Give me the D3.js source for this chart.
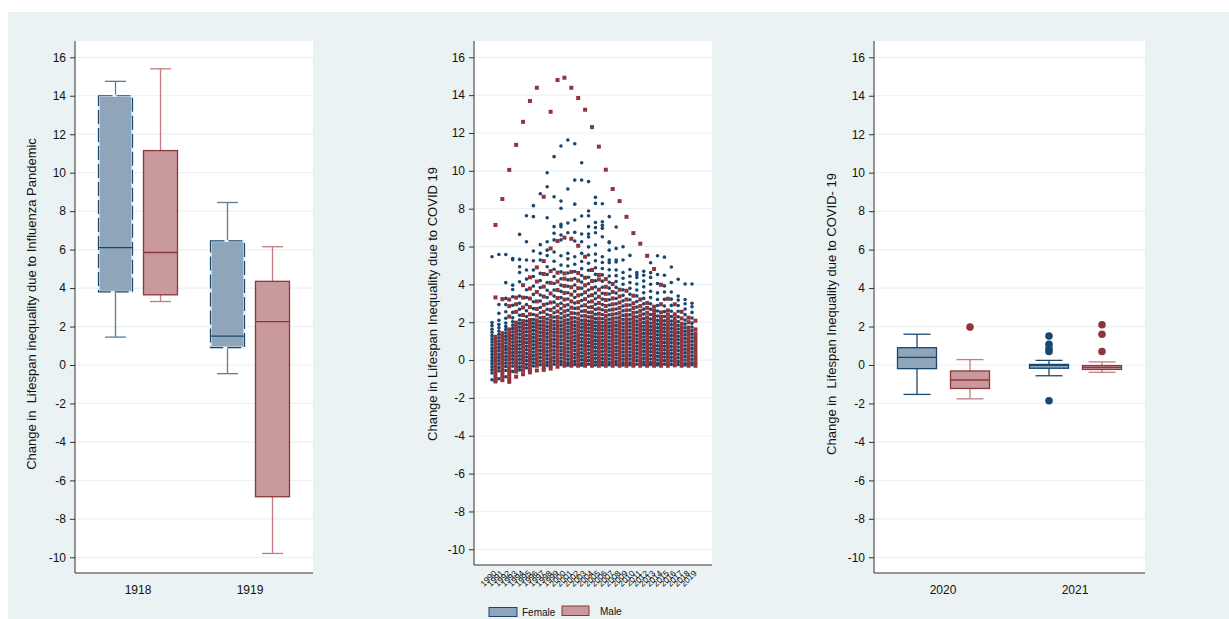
<!DOCTYPE html>
<html>
<head>
<meta charset="utf-8">
<script src="https://cdn.jsdelivr.net/npm/d3@7/dist/d3.min.js"></script>
<style>
body{margin:0;background:#fff;}
svg{display:block;font-family:Arial,"Liberation Sans",sans-serif;}
</style>
</head>
<body>
<svg id="svg" width="1229" height="619"></svg>
<script>
//tick values shared by the three panels
var yTicks = [-10, -8, -6, -4, -2, 0, 2, 4, 6, 8, 10, 12, 14, 16];

//panel 1: influenza boxes, [lower whisker, q1, median, q3, upper whisker]
var fluYears = ["1918", "1919"];
var fluFemale = [[1.45, 3.8, 6.1, 14.0, 14.75], [-0.45, 0.9, 1.5, 6.45, 8.45]];
var fluMale = [[3.3, 3.65, 5.85, 11.15, 15.4], [-9.8, -6.85, 2.25, 4.35, 6.15]];

//panel 3: covid boxes
var covidYears = ["2020", "2021"];
var covidFemale = [[-1.53, -0.19, 0.4, 0.9, 1.6], [-0.56, -0.17, -0.02, 0.03, 0.24]];
var covidMale = [[-1.76, -1.22, -0.78, -0.31, 0.28], [-0.38, -0.23, -0.12, -0.03, 0.16]];
var covidFemaleOut = [[], [1.51, 1.08, 0.85, 0.7, -1.86]];
var covidMaleOut = [[1.97], [2.09, 1.6, 0.7]];

//panel 2: scatter by year
var scatterYears = ["1990","1991","1992","1993","1994","1995","1996","1997","1998","1999",
    "2000","2001","2002","2003","2004","2005","2006","2007","2008","2009",
    "2010","2011","2012","2013","2014","2015","2016","2017","2018","2019"];

var scatterFemale = [
    [5.46, 1.98, 1.82, 1.63, 1.47, 1.29, 1.12, 0.96, 0.79, 0.62, 0.46, 0.3, 0.13, -0.03, -0.19, -0.35, -0.52, -0.68, -1.04],
    [5.58, 2.94, 2.47, 2.1, 1.88, 1.71, 1.53, 1.36, 1.18, 1.01, 0.84, 0.66, 0.49, 0.31, 0.14, -0.04, -0.21, -0.39, -0.57, -0.99],
    [5.58, 4.09, 3.26, 2.93, 2.55, 2.21, 1.96, 1.78, 1.61, 1.43, 1.25, 1.07, 0.9, 0.72, 0.55, 0.37, 0.19, 0.02, -0.16, -0.34, -0.55, -0.88],
    [5.37, 5.3, 3.96, 3.73, 3.35, 2.9, 2.52, 2.23, 2.02, 1.84, 1.66, 1.48, 1.3, 1.12, 0.94, 0.76, 0.58, 0.4, 0.22, 0.04, -0.14, -0.32, -0.6],
    [6.64, 5.32, 4.93, 4.63, 4.14, 3.38, 3.0, 2.68, 2.37, 2.12, 1.93, 1.74, 1.55, 1.36, 1.17, 0.98, 0.79, 0.6, 0.41, 0.22, 0.03, -0.16, -0.35, -0.52],
    [7.63, 6.25, 5.29, 4.76, 4.28, 3.72, 3.31, 2.93, 2.61, 2.3, 2.06, 1.87, 1.68, 1.49, 1.3, 1.11, 0.92, 0.73, 0.54, 0.35, 0.16, -0.03, -0.22, -0.41],
    [8.16, 7.58, 5.76, 5.25, 4.76, 4.42, 3.91, 3.47, 3.08, 2.72, 2.41, 2.14, 1.95, 1.76, 1.57, 1.38, 1.19, 1.0, 0.81, 0.62, 0.43, 0.24, 0.05, -0.14, -0.31],
    [8.79, 6.1, 5.64, 5.29, 4.58, 4.2, 3.83, 3.44, 3.12, 2.78, 2.5, 2.24, 2.03, 1.84, 1.65, 1.46, 1.27, 1.08, 0.89, 0.7, 0.51, 0.32, 0.13, -0.06, -0.25],
    [9.9, 9.16, 7.52, 6.25, 5.81, 5.52, 4.93, 4.52, 4.1, 3.69, 3.31, 2.98, 2.68, 2.41, 2.17, 1.97, 1.78, 1.59, 1.4, 1.21, 1.02, 0.83, 0.64, 0.45, 0.26, 0.07, -0.12, -0.28],
    [10.75, 8.63, 7.05, 6.7, 6.35, 5.71, 5.22, 4.8, 4.42, 4.05, 3.7, 3.38, 3.06, 2.76, 2.5, 2.26, 2.04, 1.85, 1.66, 1.47, 1.28, 1.09, 0.9, 0.71, 0.52, 0.33, 0.14, -0.05, -0.22],
    [11.31, 8.4, 8.02, 7.17, 7.05, 6.61, 6.35, 5.51, 5.02, 4.66, 4.3, 3.96, 3.63, 3.3, 3.0, 2.72, 2.46, 2.22, 2.01, 1.82, 1.63, 1.44, 1.25, 1.06, 0.87, 0.68, 0.49, 0.3, 0.11, -0.08, -0.24],
    [11.63, 9.04, 7.24, 6.73, 5.64, 5.35, 4.97, 4.6, 4.24, 3.9, 3.56, 3.23, 2.92, 2.63, 2.37, 2.13, 1.94, 1.75, 1.56, 1.37, 1.18, 0.99, 0.8, 0.61, 0.42, 0.23, 0.04, -0.15, -0.27],
    [11.43, 9.51, 8.24, 7.4, 6.75, 6.29, 5.46, 5.06, 4.68, 4.31, 3.97, 3.64, 3.31, 3.01, 2.73, 2.47, 2.23, 2.02, 1.83, 1.64, 1.45, 1.26, 1.07, 0.88, 0.69, 0.5, 0.31, 0.12, -0.07, -0.24],
    [10.43, 9.51, 7.61, 6.66, 6.25, 5.64, 5.21, 4.83, 4.47, 4.12, 3.79, 3.46, 3.15, 2.86, 2.58, 2.33, 2.1, 1.91, 1.72, 1.53, 1.34, 1.15, 0.96, 0.77, 0.58, 0.39, 0.2, 0.01, -0.18, -0.27],
    [9.43, 7.88, 7.63, 7.05, 6.66, 6.5, 5.98, 5.55, 5.12, 4.74, 4.38, 4.03, 3.7, 3.38, 3.07, 2.79, 2.52, 2.28, 2.06, 1.87, 1.68, 1.49, 1.3, 1.11, 0.92, 0.73, 0.54, 0.35, 0.16, -0.03, -0.22],
    [8.6, 8.28, 7.27, 7.0, 6.73, 6.08, 5.6, 5.25, 4.88, 4.53, 4.19, 3.86, 3.54, 3.24, 2.95, 2.68, 2.42, 2.19, 1.99, 1.8, 1.61, 1.42, 1.23, 1.04, 0.85, 0.66, 0.47, 0.28, 0.09, -0.1, -0.26],
    [8.26, 7.31, 7.12, 6.96, 6.52, 5.46, 5.16, 4.84, 4.5, 4.17, 3.85, 3.53, 3.22, 2.93, 2.66, 2.41, 2.18, 1.98, 1.79, 1.6, 1.41, 1.22, 1.03, 0.84, 0.65, 0.46, 0.27, 0.08, -0.11, -0.26],
    [7.58, 6.25, 6.2, 5.81, 5.29, 5.15, 4.77, 4.44, 4.11, 3.8, 3.49, 3.19, 2.91, 2.64, 2.39, 2.16, 1.96, 1.77, 1.58, 1.39, 1.2, 1.01, 0.82, 0.63, 0.44, 0.25, 0.06, -0.13, -0.25],
    [7.03, 5.9, 5.29, 5.18, 4.76, 4.46, 4.15, 3.84, 3.54, 3.25, 2.97, 2.7, 2.45, 2.22, 2.01, 1.82, 1.63, 1.44, 1.25, 1.06, 0.87, 0.68, 0.49, 0.3, 0.11, -0.08, -0.24],
    [5.99, 5.29, 4.63, 4.32, 4.01, 3.71, 3.42, 3.13, 2.86, 2.6, 2.36, 2.14, 1.94, 1.75, 1.56, 1.37, 1.18, 0.99, 0.8, 0.61, 0.42, 0.23, 0.04, -0.15, -0.26],
    [5.53, 4.79, 4.43, 4.1, 3.79, 3.48, 3.19, 2.91, 2.64, 2.39, 2.16, 1.95, 1.76, 1.57, 1.38, 1.19, 1.0, 0.81, 0.62, 0.43, 0.24, 0.05, -0.14, -0.25],
    [4.62, 4.5, 4.36, 4.02, 3.7, 3.39, 3.09, 2.8, 2.53, 2.28, 2.06, 1.87, 1.68, 1.49, 1.3, 1.11, 0.92, 0.73, 0.54, 0.35, 0.16, -0.03, -0.22],
    [4.69, 4.48, 4.18, 3.87, 3.56, 3.26, 2.97, 2.69, 2.43, 2.19, 1.98, 1.79, 1.6, 1.41, 1.22, 1.03, 0.84, 0.65, 0.46, 0.27, 0.08, -0.11, -0.25],
    [5.14, 4.62, 4.37, 4.01, 3.64, 3.3, 2.98, 2.68, 2.41, 2.17, 1.96, 1.77, 1.58, 1.39, 1.2, 1.01, 0.82, 0.63, 0.44, 0.25, 0.06, -0.13, -0.24],
    [5.51, 4.52, 4.05, 3.55, 3.2, 2.88, 2.59, 2.33, 2.1, 1.9, 1.71, 1.52, 1.33, 1.14, 0.95, 0.76, 0.57, 0.38, 0.19, 0.0, -0.19, -0.26],
    [5.44, 4.48, 3.92, 3.6, 3.21, 2.86, 2.56, 2.3, 2.07, 1.87, 1.68, 1.49, 1.3, 1.11, 0.92, 0.73, 0.54, 0.35, 0.16, -0.03, -0.22],
    [4.92, 4.1, 3.6, 3.22, 2.89, 2.58, 2.3, 2.06, 1.86, 1.67, 1.48, 1.29, 1.1, 0.91, 0.72, 0.53, 0.34, 0.15, -0.04, -0.23],
    [4.27, 3.38, 3.17, 2.88, 2.58, 2.29, 2.03, 1.83, 1.64, 1.45, 1.26, 1.07, 0.88, 0.69, 0.5, 0.31, 0.12, -0.07, -0.24],
    [4.02, 3.2, 2.98, 2.7, 2.4, 2.12, 1.9, 1.71, 1.52, 1.33, 1.14, 0.95, 0.76, 0.57, 0.38, 0.19, 0.0, -0.19, -0.26],
    [4.02, 3.0, 2.82, 2.52, 2.22, 1.95, 1.75, 1.56, 1.37, 1.18, 0.99, 0.8, 0.61, 0.42, 0.23, 0.04, -0.15, -0.25]
];

var scatterMale = [
    [7.14, 3.31, 1.23, 1.05, 0.86, 0.67, 0.48, 0.29, 0.1, -0.09, -0.28, -0.47, -0.66, -0.85, -1.05, -1.13],
    [8.51, 3.22, 1.42, 1.22, 1.03, 0.84, 0.65, 0.46, 0.27, 0.08, -0.11, -0.3, -0.49, -0.68, -0.87, -1.06],
    [10.05, 3.2, 2.85, 2.3, 1.62, 1.42, 1.22, 1.02, 0.82, 0.62, 0.42, 0.22, 0.02, -0.18, -0.38, -0.58, -0.78, -0.98, -1.15],
    [11.37, 3.3, 2.95, 2.55, 1.98, 1.79, 1.59, 1.39, 1.19, 0.99, 0.79, 0.59, 0.39, 0.19, -0.01, -0.21, -0.41, -0.61, -0.88],
    [12.59, 3.96, 3.3, 2.78, 2.38, 2.06, 1.86, 1.66, 1.46, 1.26, 1.06, 0.86, 0.66, 0.46, 0.26, 0.06, -0.14, -0.34, -0.54, -0.75],
    [13.69, 4.37, 3.78, 3.25, 2.8, 2.42, 2.12, 1.91, 1.71, 1.51, 1.31, 1.11, 0.91, 0.71, 0.51, 0.31, 0.11, -0.09, -0.29, -0.49, -0.65],
    [14.39, 4.9, 4.15, 3.6, 3.1, 2.7, 2.35, 2.1, 1.9, 1.7, 1.5, 1.3, 1.1, 0.9, 0.7, 0.5, 0.3, 0.1, -0.1, -0.3, -0.55],
    [8.63, 5.23, 4.55, 3.88, 3.36, 2.92, 2.55, 2.24, 2.03, 1.83, 1.63, 1.43, 1.23, 1.03, 0.83, 0.63, 0.43, 0.23, 0.03, -0.17, -0.37, -0.52],
    [13.12, 5.9, 4.7, 4.08, 3.52, 3.04, 2.65, 2.33, 2.1, 1.9, 1.7, 1.5, 1.3, 1.1, 0.9, 0.7, 0.5, 0.3, 0.1, -0.1, -0.3, -0.45],
    [14.8, 6.29, 4.62, 4.15, 3.7, 3.28, 2.9, 2.57, 2.28, 2.05, 1.85, 1.65, 1.45, 1.25, 1.05, 0.85, 0.65, 0.45, 0.25, 0.05, -0.15, -0.35],
    [14.92, 6.47, 4.58, 4.3, 3.92, 3.55, 3.2, 2.87, 2.57, 2.31, 2.08, 1.88, 1.68, 1.48, 1.28, 1.08, 0.88, 0.68, 0.48, 0.28, 0.08, -0.12, -0.3],
    [14.39, 6.41, 4.66, 4.25, 3.85, 3.46, 3.1, 2.77, 2.48, 2.22, 2.0, 1.8, 1.6, 1.4, 1.2, 1.0, 0.8, 0.6, 0.4, 0.2, 0.0, -0.2, -0.3],
    [13.85, 6.04, 4.6, 4.2, 3.8, 3.42, 3.06, 2.74, 2.45, 2.19, 1.97, 1.77, 1.57, 1.37, 1.17, 0.97, 0.77, 0.57, 0.37, 0.17, -0.03, -0.23, -0.3],
    [13.23, 5.46, 4.35, 3.95, 3.58, 3.22, 2.9, 2.6, 2.34, 2.1, 1.9, 1.7, 1.5, 1.3, 1.1, 0.9, 0.7, 0.5, 0.3, 0.1, -0.1, -0.3],
    [12.31, 4.76, 4.18, 3.8, 3.43, 3.1, 2.8, 2.52, 2.27, 2.05, 1.85, 1.65, 1.45, 1.25, 1.05, 0.85, 0.65, 0.45, 0.25, 0.05, -0.15, -0.3],
    [11.28, 4.5, 4.26, 3.72, 3.35, 3.02, 2.72, 2.45, 2.2, 1.99, 1.8, 1.6, 1.4, 1.2, 1.0, 0.8, 0.6, 0.4, 0.2, 0.0, -0.2, -0.3],
    [10.06, 4.28, 3.87, 3.5, 3.17, 2.86, 2.58, 2.33, 2.1, 1.9, 1.7, 1.5, 1.3, 1.1, 0.9, 0.7, 0.5, 0.3, 0.1, -0.1, -0.3],
    [9.04, 4.02, 3.6, 3.26, 2.95, 2.67, 2.41, 2.18, 1.98, 1.79, 1.6, 1.41, 1.22, 1.03, 0.84, 0.65, 0.46, 0.27, 0.08, -0.11, -0.3],
    [8.4, 3.72, 3.36, 3.04, 2.76, 2.5, 2.26, 2.05, 1.86, 1.67, 1.48, 1.29, 1.1, 0.91, 0.72, 0.53, 0.34, 0.15, -0.04, -0.23, -0.3],
    [7.57, 3.66, 3.2, 2.9, 2.63, 2.38, 2.16, 1.96, 1.77, 1.58, 1.39, 1.2, 1.01, 0.82, 0.63, 0.44, 0.25, 0.06, -0.13, -0.3],
    [6.71, 3.4, 3.0, 2.75, 2.5, 2.27, 2.06, 1.87, 1.68, 1.49, 1.3, 1.11, 0.92, 0.73, 0.54, 0.35, 0.16, -0.03, -0.22, -0.3],
    [6.15, 3.2, 2.86, 2.6, 2.36, 2.14, 1.94, 1.75, 1.56, 1.37, 1.18, 0.99, 0.8, 0.61, 0.42, 0.23, 0.04, -0.15, -0.3],
    [5.51, 3.02, 2.76, 2.5, 2.26, 2.05, 1.86, 1.67, 1.48, 1.29, 1.1, 0.91, 0.72, 0.53, 0.34, 0.15, -0.04, -0.23, -0.3],
    [4.81, 2.82, 2.6, 2.38, 2.17, 1.97, 1.78, 1.59, 1.4, 1.21, 1.02, 0.83, 0.64, 0.45, 0.26, 0.07, -0.12, -0.3],
    [3.98, 2.95, 2.52, 2.28, 2.07, 1.88, 1.69, 1.5, 1.31, 1.12, 0.93, 0.74, 0.55, 0.36, 0.17, -0.02, -0.21, -0.3],
    [3.24, 2.62, 2.4, 2.18, 1.98, 1.79, 1.6, 1.41, 1.22, 1.03, 0.84, 0.65, 0.46, 0.27, 0.08, -0.11, -0.3],
    [2.95, 2.42, 2.2, 2.0, 1.81, 1.62, 1.43, 1.24, 1.05, 0.86, 0.67, 0.48, 0.29, 0.1, -0.09, -0.28],
    [2.55, 2.2, 1.92, 1.72, 1.53, 1.34, 1.15, 0.96, 0.77, 0.58, 0.39, 0.2, 0.01, -0.18, -0.3],
    [2.24, 2.0, 1.72, 1.53, 1.34, 1.15, 0.96, 0.77, 0.58, 0.39, 0.2, 0.01, -0.18, -0.3],
    [2.08, 1.62, 1.4, 1.21, 1.02, 0.83, 0.64, 0.45, 0.26, 0.07, -0.12, -0.3]
];

var navy = "#1a476f", maroon = "#90353b";
var navyFill = "#8fa6ba", maroonFill = "#c99a9d";
var bg = "#eaf2f3";

var svg = d3.select("#svg");

//graph region
svg.append("rect").attr("x", 8).attr("y", 12).attr("width", 1221).attr("height", 607).attr("fill", bg);

//plot area, grid and y axis for one panel
function makeFrame(p) {
    var y = d3.scaleLinear().domain([-10, 16]).range([p.y10, p.y16]);
    svg.append("rect")
        .attr("x", p.left).attr("y", p.top)
        .attr("width", p.right - p.left).attr("height", p.bottom - p.top)
        .attr("fill", "#fff");

    svg.append("g").selectAll("line").data(yTicks).enter()
        .append("line")
        .attr("x1", p.left).attr("x2", p.right)
        .attr("y1", function(d){ return y(d); })
        .attr("y2", function(d){ return y(d); })
        .attr("stroke", bg).attr("stroke-width", 1.2);

    var yAxis = svg.append("g")
        .attr("transform", "translate(" + p.left + ",0)")
        .call(d3.axisLeft(y).tickValues(yTicks).tickSize(5).tickPadding(4)
            .tickFormat(function(d){ return String(d); }));
    yAxis.select(".domain").remove();
    yAxis.selectAll("line").attr("stroke", "#333");
    yAxis.selectAll("text").attr("fill", "#111").style("font-size", "12px")
        .style("font-family", "Arial, 'Liberation Sans', sans-serif");

    //axis lines
    svg.append("line").attr("x1", p.left).attr("x2", p.left)
        .attr("y1", p.top).attr("y2", p.bottom).attr("stroke", "#333");
    svg.append("line").attr("x1", p.left).attr("x2", p.right)
        .attr("y1", p.bottom).attr("y2", p.bottom).attr("stroke", "#333");

    svg.append("text")
        .attr("transform", "translate(" + p.titleX + "," + p.titleY + ") rotate(-90)")
        .attr("text-anchor", "middle")
        .style("font-size", "13px").attr("fill", "#111")
        .style("white-space", "pre")
        .text(p.title);
    return y;
}

function drawBox(y, cx, w, capW, s, fill, stroke, whisk, dashed) {
    var g = svg.append("g");
    //whiskers
    g.append("line").attr("x1", cx).attr("x2", cx).attr("y1", y(s[3])).attr("y2", y(s[4]))
        .attr("stroke", whisk).attr("stroke-width", 1.3);
    g.append("line").attr("x1", cx).attr("x2", cx).attr("y1", y(s[1])).attr("y2", y(s[0]))
        .attr("stroke", whisk).attr("stroke-width", 1.3);
    g.append("line").attr("x1", cx - capW / 2).attr("x2", cx + capW / 2).attr("y1", y(s[4])).attr("y2", y(s[4]))
        .attr("stroke", whisk).attr("stroke-width", 1.3);
    g.append("line").attr("x1", cx - capW / 2).attr("x2", cx + capW / 2).attr("y1", y(s[0])).attr("y2", y(s[0]))
        .attr("stroke", whisk).attr("stroke-width", 1.3);
    //box
    var box = g.append("rect")
        .attr("x", cx - w / 2).attr("y", y(s[3]))
        .attr("width", w).attr("height", y(s[1]) - y(s[3]))
        .attr("fill", fill);
    if (dashed) {
        box.attr("stroke", "#f2f5f8").attr("stroke-width", 2.2);
        g.append("rect")
            .attr("x", cx - w / 2).attr("y", y(s[3]))
            .attr("width", w).attr("height", y(s[1]) - y(s[3]))
            .attr("fill", "none").attr("stroke", stroke).attr("stroke-width", 1.2)
            .attr("stroke-dasharray", "14,4");
    } else {
        box.attr("stroke", stroke).attr("stroke-width", 1.3);
    }
    g.append("line").attr("x1", cx - w / 2).attr("x2", cx + w / 2)
        .attr("y1", y(s[2])).attr("y2", y(s[2]))
        .attr("stroke", stroke).attr("stroke-width", 1.3);
}

function catAxis(x, p, cats) {
    svg.append("g").selectAll("text").data(cats).enter()
        .append("text")
        .attr("x", function(d){ return x(d) + x.bandwidth() / 2; })
        .attr("y", p.bottom + 21)
        .attr("text-anchor", "middle")
        .style("font-size", "12px").attr("fill", "#111")
        .text(function(d){ return d; });
}

//---- panel 1 ----
var p1 = {left: 75, right: 313, top: 41, bottom: 573, y10: 557.3, y16: 57.3,
    titleX: 36, titleY: 304, title: "Change in  Lifespan inequality due to Influenza Pandemic"};
var y1 = makeFrame(p1);
var x1 = d3.scaleBand().domain(fluYears).range([82, 306]);
fluYears.forEach(function(c, i) {
    var cx = x1(c) + x1.bandwidth() / 2;
    drawBox(y1, cx - 22.5, 34, 21, fluFemale[i], navyFill, navy, "#5a7d9c", true);
    drawBox(y1, cx + 22.5, 34, 21, fluMale[i], maroonFill, maroon, "#c27c82", false);
});
catAxis(x1, p1, fluYears);

//---- panel 3 ----
var p3 = {left: 874, right: 1145, top: 41, bottom: 573, y10: 557.3, y16: 57.3,
    titleX: 836, titleY: 314, title: "Change in  Lifespan Inequality due to COVID- 19"};
var y3 = makeFrame(p3);
var x3 = d3.scaleBand().domain(covidYears).range([877, 1141]);
covidYears.forEach(function(c, i) {
    var cx = x3(c) + x3.bandwidth() / 2;
    drawBox(y3, cx - 26, 39, 27, covidFemale[i], navyFill, navy, navy, false);
    drawBox(y3, cx + 27, 39, 27, covidMale[i], maroonFill, maroon, "#c27c82", false);
    svg.append("g").selectAll("circle").data(covidFemaleOut[i]).enter()
        .append("circle").attr("cx", cx - 26).attr("cy", function(d){ return y3(d); })
        .attr("r", 3.8).attr("fill", navy);
    svg.append("g").selectAll("circle").data(covidMaleOut[i]).enter()
        .append("circle").attr("cx", cx + 27).attr("cy", function(d){ return y3(d); })
        .attr("r", 3.8).attr("fill", maroon);
});
catAxis(x3, p3, covidYears);

//---- panel 2 ----
var p2 = {left: 474, right: 712, top: 41, bottom: 565, y10: 549.3, y16: 57.3,
    titleX: 437, titleY: 304, title: "Change in Lifespan Inequality due to COVID 19"};
var y2 = makeFrame(p2);
var x2 = d3.scalePoint().domain(scatterYears).range([492, 692]);
var half = x2.step() / 2;

var fPts = [], mPts = [];
scatterYears.forEach(function(yr, i) {
    scatterFemale[i].forEach(function(v){ fPts.push({year: yr, v: v}); });
    scatterMale[i].forEach(function(v){ mPts.push({year: yr, v: v}); });
});

svg.append("g").selectAll("circle").data(fPts).enter()
    .append("circle")
    .attr("cx", function(d){ return x2(d.year); })
    .attr("cy", function(d){ return y2(d.v); })
    .attr("r", 1.8)
    .attr("fill", navy);

svg.append("g").selectAll("rect").data(mPts).enter()
    .append("rect")
    .attr("x", function(d){ return x2(d.year) + half - 2; })
    .attr("y", function(d){ return y2(d.v) - 2; })
    .attr("width", 4).attr("height", 4)
    .attr("fill", maroon);

var xAxis2 = svg.append("g")
    .attr("transform", "translate(0," + p2.bottom + ")")
    .call(d3.axisBottom(x2).tickSize(0));
xAxis2.select(".domain").remove();
xAxis2.selectAll("text")
    .attr("x", 0).attr("y", 0).attr("dy", "0.3em")
    .attr("transform", "translate(3,7) rotate(-45)")
    .style("text-anchor", "end")
    .style("font-size", "8.5px")
    .style("font-family", "Arial, 'Liberation Sans', sans-serif")
    .attr("fill", "#111");

//legend
var legend = svg.append("g");
legend.append("rect").attr("x", 489).attr("y", 607.5).attr("width", 28).attr("height", 9)
    .attr("fill", navyFill).attr("stroke", navy).attr("stroke-width", 1);
legend.append("text").attr("x", 522).attr("y", 616).style("font-size", "10px").attr("fill", "#111").text("Female");
legend.append("rect").attr("x", 562).attr("y", 606).attr("width", 27).attr("height", 9.5)
    .attr("fill", maroonFill).attr("stroke", maroon).attr("stroke-width", 1);
legend.append("text").attr("x", 600).attr("y", 614.5).style("font-size", "10px").attr("fill", "#111").text("Male");
</script>
</body>
</html>
